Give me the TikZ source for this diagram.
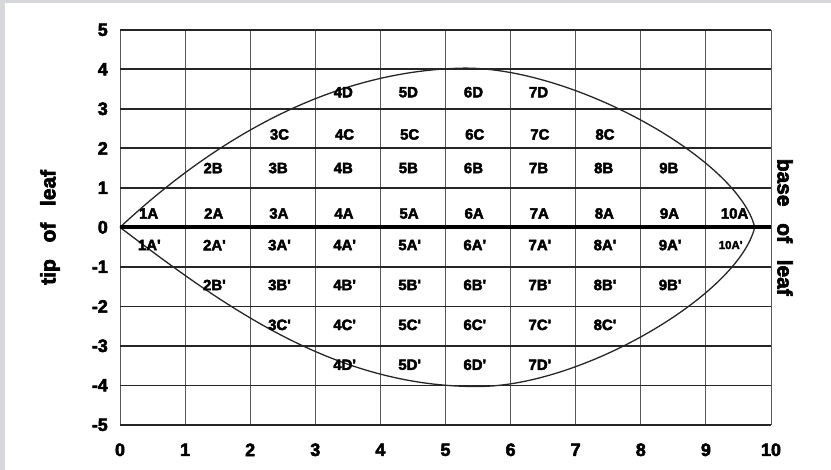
\documentclass[tikz,border=0pt]{standalone}
\usepackage{fontspec}
\setmainfont{Liberation Sans}
\newfontfamily\heavyfont{Liberation Sans}[BoldFeatures={FakeBold=3}]
\definecolor{greyband}{HTML}{D6D8DB}
\begin{document}
\begin{tikzpicture}[x=65.1bp,y=39.5bp,
  hgrid/.style={line width=1.6bp, black!85},
  vgrid/.style={line width=1bp, black!65},
  leafline/.style={line width=1.3bp, black!85},
  midline/.style={line width=4bp, black},
  tick/.style={font=\fontsize{18}{18}\heavyfont\bfseries, inner sep=0pt},
  cell/.style={font=\fontsize{15}{15}\heavyfont\bfseries, inner sep=0pt},
  smallcell/.style={font=\fontsize{11.5}{11.5}\heavyfont\bfseries, inner sep=0pt},
  axislab/.style={font=\fontsize{21}{21}\heavyfont\bfseries, inner sep=0pt}]
\useasboundingbox (-120bp,-242.7bp) rectangle (711bp,227.3bp);
\fill[greyband] (-120bp,-242.7bp) rectangle (-115bp,227.3bp);
\fill[greyband] (-120bp,224.3bp) rectangle (711bp,227.3bp);
% grid
\foreach \i in {0,...,10} \draw[vgrid] (\i,-5) -- (\i,5);
\foreach \j in {-5,...,5} \draw[hgrid] (0,\j) -- (10,\j);
% tick labels
\foreach \j in {-5,...,5} \node[tick, anchor=east] (ty\j) at ([xshift=-12bp]0,\j) {\j};
\foreach \i in {0,...,10} \node[tick] (tx\i) at ([yshift=-25bp]\i,-5) {\i};
% leaf outline
\coordinate (tipend) at (0,0);
\coordinate (baseend) at (9.75,0);
\coordinate (top) at (5.3,4.03);
\coordinate (bottom) at (5.5,-4.03);
\draw[leafline] (tipend) .. controls (1.4,2.15) and (3.2,3.98) .. (top)
  .. controls (7.0,4.03) and (9.5,1.7) .. (baseend);
\draw[leafline] (tipend) .. controls (1.6,-2.0) and (3.3,-4.05) .. (bottom)
  .. controls (7.1,-4.03) and (9.5,-1.7) .. (baseend);
\draw[midline] (0,0) -- (10,0);
% cell labels
\foreach \n in {1,...,10} \node[cell] (a\n) at (\n-0.56,0.35) {\n A};
\foreach \n in {2,...,9} \node[cell] (b\n) at (\n-0.57,1.5) {\n B};
\foreach \n in {3,...,8} \node[cell] (c\n) at (\n-0.55,2.35) {\n C};
\foreach \n in {4,...,7} \node[cell] (d\n) at (\n-0.57,3.42) {\n D};
\foreach \n in {1,...,9} \node[cell] (ap\n) at (\n-0.55,-0.45) {\n A'};
\node[smallcell] (ap10) at (9.38,-0.45) {10A'};
\foreach \n in {2,...,9} \node[cell] (bp\n) at (\n-0.55,-1.46) {\n B'};
\foreach \n in {3,...,8} \node[cell] (cp\n) at (\n-0.55,-2.47) {\n C'};
\foreach \n in {4,...,7} \node[cell] (dp\n) at (\n-0.55,-3.48) {\n D'};
% axis labels
\node[axislab, rotate=90] (tip) at ([xshift=-70bp]0,0) {tip\hspace{0.8em}of\hspace{0.8em}leaf};
\node[axislab, rotate=-90] (base) at ([xshift=14bp]10,0) {base\hspace{0.8em}of\hspace{0.8em}leaf};
\end{tikzpicture}
\end{document}
